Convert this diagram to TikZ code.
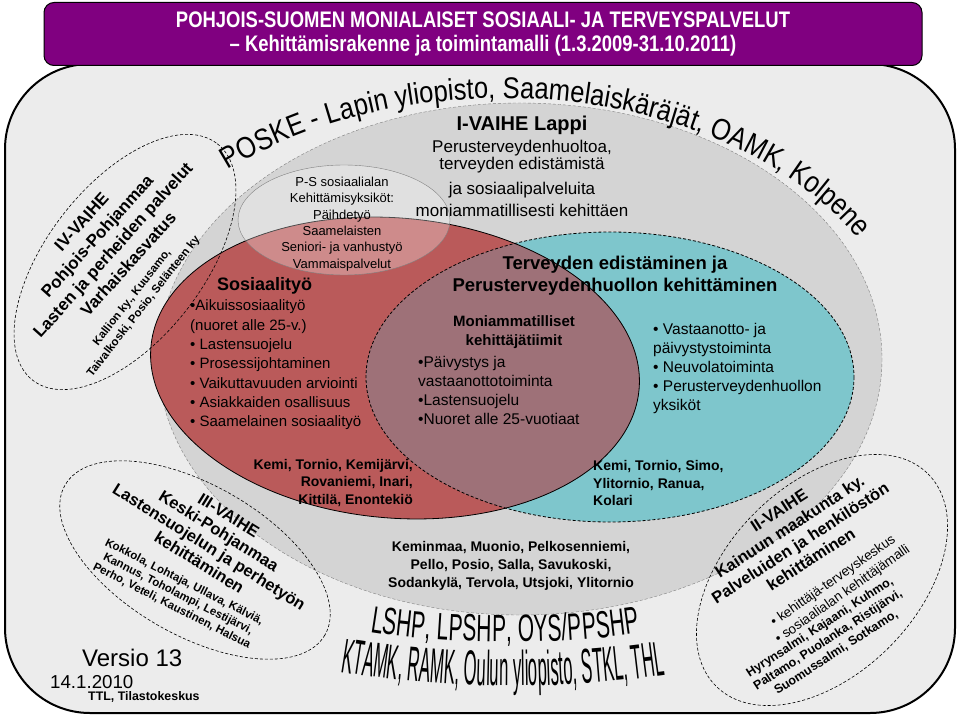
\documentclass[tikz,border=0pt]{standalone}
\usepackage{fontspec}
\setmainfont{Liberation Sans}
\newfontfamily\narrowfont[FakeStretch=0.82]{Liberation Sans}
\newfontfamily\arcfont[FakeStretch=0.85]{Liberation Sans}
\newfontfamily\wordartA[FakeStretch=0.55]{Liberation Sans}
\newfontfamily\wordartB[FakeStretch=0.34]{Liberation Sans}
\usetikzlibrary{decorations.text}

\definecolor{framegrey}{RGB}{236,236,236}
\definecolor{phasegrey}{RGB}{212,212,212}
\definecolor{headpurple}{RGB}{128,0,128}
\definecolor{sosred}{RGB}{186,90,90}
\definecolor{tervteal}{RGB}{126,198,204}
\definecolor{overlapmauve}{RGB}{158,113,120}
\newcommand{\pxfont}[2]{\fontsize{#1}{#2}\selectfont}

\begin{document}
\begin{tikzpicture}[
    x=1pt, y=-1pt,
    header/.style={rectangle, draw, line width=1pt, fill=headpurple, rounded corners=10pt,
        minimum width=878pt, minimum height=63pt, align=center, text=white,
        font=\narrowfont\bfseries\pxfont{22.5}{24}},
    phase/.style={draw, dash pattern=on 3pt off 2pt, line width=0.6pt},
    sostilt/.style={rotate around={-5:(395,368)}},
    txt/.style={inner sep=0, align=center},
    list/.style={inner sep=0, align=left, anchor=west},
    bold/.style={font=\bfseries\pxfont{#1}{#1}},
    plain/.style={font=\pxfont{#1}{#1}}
]
    \useasboundingbox (0,0) rectangle (960,722);
    % Frame and header
    \draw[line width=2pt, fill=framegrey, rounded corners=85pt] (5,64) rectangle (955,713);
    \node[header] (hdr) at (483,34) {POHJOIS-SUOMEN MONIALAISET SOSIAALI- JA TERVEYSPALVELUT\\
        – Kehittämisrakenne ja toimintamalli (1.3.2009-31.10.2011)};
    % I-VAIHE area
    \draw[fill=phasegrey, draw=gray, dash pattern=on 3pt off 2pt] (520,359) ellipse [x radius=362, y radius=256];
    % Teal and red ellipses
    \fill[tervteal] (610,377) ellipse [x radius=244, y radius=145];
    \fill[sosred, sostilt] (395,368) ellipse [x radius=245, y radius=150];
    \begin{scope}
        \clip (610,377) ellipse [x radius=244, y radius=145];
        \fill[overlapmauve, sostilt] (395,368) ellipse [x radius=245, y radius=150];
    \end{scope}
    \draw[dash pattern=on 3pt off 2pt, line width=0.8pt] (610,377) ellipse [x radius=244, y radius=145];
    \draw[line width=0.8pt, sostilt] (395,368) ellipse [x radius=245, y radius=150];
    % P-S ellipse
    \draw[gray, fill=white, fill opacity=0.3] (344,220) ellipse [x radius=106, y radius=55];
    % Phase ellipses
    \draw[phase, rotate around={52:(125,262)}] (125,262) ellipse [x radius=150, y radius=78];
    \draw[phase, rotate around={-30:(195,560)}] (195,560) ellipse [x radius=150, y radius=75];
    \draw[phase, rotate around={45:(822,580)}] (822,580) ellipse [x radius=150, y radius=95];
    % Arc texts
    \path[decorate, decoration={text along path, text align=fit to path,
        text={|\arcfont\pxfont{30}{30}|POSKE - Lapin yliopisto, Saamelaiskäräjät, OAMK, Kolpene}}]
        (228,170) arc [start angle=-132.6, end angle=-29, x radius=406, y radius=272];
    \path[decorate, decoration={text along path, text align=fit to path,
        text={|\wordartA\pxfont{38}{38}|LSHP, LPSHP, OYS/PPSHP}}]
        (370,632) .. controls (450,645) and (560,645) .. (640,633);
    \path[decorate, decoration={text along path, text align=fit to path,
        text={|\wordartB\pxfont{49}{49}|KTAMK, RAMK, Oulun yliopisto, STKL, THL}}]
        (340,672) .. controls (450,690) and (560,690) .. (665,675);
    % I-VAIHE texts
    \node[txt, bold=20] (ivaihe) at (522,125) {I-VAIHE Lappi};
    \node[txt, font=\pxfont{17}{17}] (itext1) at (522,157) {Perusterveydenhuoltoa,\\terveyden edistämistä};
    \node[txt, font=\pxfont{17}{22}] (itext2) at (522,199) {ja sosiaalipalveluita\\moniammatillisesti kehittäen};
    \node[txt, font=\pxfont{13}{16.3}] (ps) at (342,224) {P-S sosiaalialan\\Kehittämisyksiköt:\\Päihdetyö\\Saamelaisten\\Seniori- ja vanhustyö\\Vammaispalvelut};
    % Sosiaalityo
    \node[list, bold=18] (sos) at (217,286) {Sosiaalityö};
    \node[list, font=\pxfont{15}{19.3}] (soslist) at (190,365) {•Aikuissosiaalityö\\(nuoret alle 25-v.)\\• Lastensuojelu\\• Prosessijohtaminen\\• Vaikuttavuuden arviointi\\• Asiakkaiden osallisuus\\• Saamelainen sosiaalityö};
    % Terveys
    \node[txt, font=\bfseries\pxfont{18.5}{22}] (terv) at (615,276) {Terveyden edistäminen ja\\Perusterveydenhuollon kehittäminen};
    \node[txt, font=\bfseries\pxfont{15}{19}] (moni) at (514,332) {Moniammatilliset\\kehittäjätiimit};
    \node[list, font=\pxfont{15.5}{19}] (monilist) at (418,390) {•Päivystys ja\\vastaanottotoiminta\\•Lastensuojelu\\•Nuoret alle 25-vuotiaat};
    \node[list, font=\pxfont{15.5}{19}] (tervlist) at (653,368) {• Vastaanotto- ja\\päivystystoiminta\\• Neuvolatoiminta\\• Perusterveydenhuollon\\yksiköt};
    % Kunnat
    \node[txt, align=right, anchor=east, font=\bfseries\pxfont{14}{17.5}] (kunnat1) at (413,483) {Kemi, Tornio, Kemijärvi,\\Rovaniemi, Inari,\\Kittilä, Enontekiö};
    \node[list, font=\bfseries\pxfont{14}{17.5}] (kunnat2) at (593,483) {Kemi, Tornio, Simo,\\Ylitornio, Ranua,\\Kolari};
    \node[txt, font=\bfseries\pxfont{14}{18}] (kunnat3) at (511,566) {Keminmaa, Muonio, Pelkosenniemi,\\Pello, Posio, Salla, Savukoski,\\Sodankylä, Tervola, Utsjoki, Ylitornio};
    % IV-VAIHE
    \node[txt, rotate=48, font=\bfseries\pxfont{17}{21}] (ivhead) at (105,243) {IV-VAIHE\\Pohjois-Pohjanmaa\\Lasten ja perheiden palvelut\\Varhaiskasvatus};
    \node[txt, rotate=52, font=\bfseries\pxfont{11.5}{14.5}] (ivkunnat) at (138,302) {Kallion ky., Kuusamo,\\Taivalkoski, Posio, Selänteen ky};
    % III-VAIHE
    \node[txt, rotate=-32, font=\bfseries\pxfont{16.5}{18.5}] (iiihead) at (214,539) {III-VAIHE\\Keski-Pohjanmaa\\Lastensuojelun ja perhetyön\\kehittäminen};
    \node[txt, rotate=-27, font=\bfseries\pxfont{11.5}{13.5}] (iiikunnat) at (178,594) {Kokkola, Lohtaja, Ullava, Kälviä,\\Kannus, Toholampi, Lestijärvi,\\Perho, Veteli, Kaustinen, Halsua};
    % II-VAIHE
    \node[txt, rotate=33, font=\bfseries\pxfont{16.5}{19.5}] (iihead) at (795,535) {II-VAIHE\\Kainuun maakunta ky.\\Palveluiden ja henkilöstön\\kehittäminen};
    \node[txt, rotate=35, font=\pxfont{13.5}{16.5}] (iimallit) at (838,588) {• kehittäjä-terveyskeskus\\• sosiaalialan kehittäjämalli};
    \node[txt, rotate=33, font=\bfseries\pxfont{12.5}{15}] (iikunnat) at (828,640) {Hyrynsalmi, Kajaani, Kuhmo,\\Paltamo, Puolanka, Ristijärvi,\\Suomussalmi, Sotkamo,};
    % Version
    \node[list, plain=24] (versio) at (82,658) {Versio 13};
    \node[list, plain=18.7] (pvm) at (50,682) {14.1.2010};
    \node[list, bold=12.4] (ttl) at (88,697) {TTL, Tilastokeskus};
\end{tikzpicture}
\end{document}
